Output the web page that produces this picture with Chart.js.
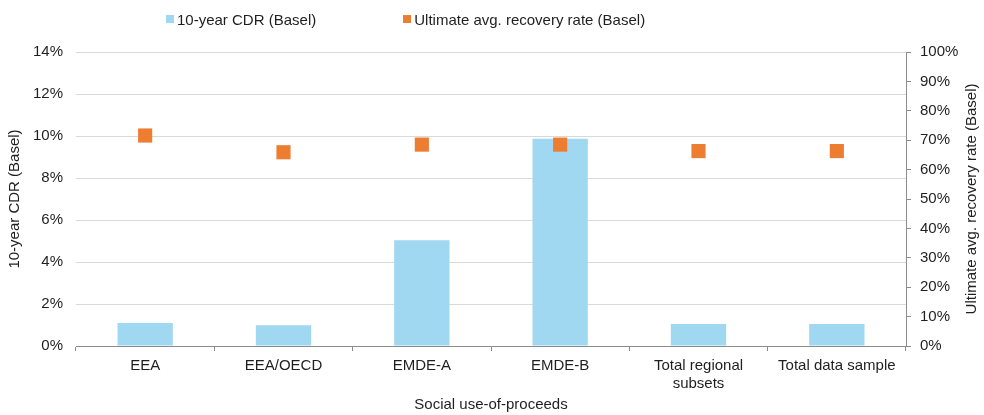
<!DOCTYPE html>
<html>
<head>
<meta charset="utf-8">
<script src="https://cdn.jsdelivr.net/npm/chart.js@4/dist/chart.umd.min.js"></script>
<style>
  html, body { margin: 0; padding: 0; background: #fff; }
  #wrap { position: relative; width: 984px; height: 415px; }
  #legend {
    position: absolute; left: 166px; top: 9px;
    display: flex; gap: 87px;
    font: 15px "Liberation Sans", Arial, sans-serif; color: #1f1f1f;
  }
  .item { display: flex; align-items: center; height: 20px; white-space: nowrap; }
  .box { width: 8px; height: 8px; margin-right: 3px; }
</style>
</head>
<body>
<div id="wrap">
  <canvas id="c" width="984" height="415"></canvas>
  <div id="legend"></div>
</div>
<script>
// Social use-of-proceeds: default and recovery statistics by regional subset
const categories = ['EEA', 'EEA/OECD', 'EMDE-A', 'EMDE-B', ['Total regional', 'subsets'], 'Total data sample'];
const cdr10y = [1.10, 0.99, 5.03, 9.87, 1.05, 1.05];          // % (left axis)
const recoveryRate = [71.6, 65.9, 68.5, 68.5, 66.3, 66.3];     // % (right axis)
const seriesNames = ['10-year CDR (Basel)', 'Ultimate avg. recovery rate (Basel)'];
const leftTicks = [0, 2, 4, 6, 8, 10, 12, 14];
const rightTicks = [0, 10, 20, 30, 40, 50, 60, 70, 80, 90, 100];
const xTitle = 'Social use-of-proceeds';

const BAR = '#a1d8f1';
const MARK = '#ed7d31';
const TEXT = '#1f1f1f';
const AXIS = '#8c8c8c';
const GRID = '#d9d9d9';
const FONT = '"Liberation Sans", Arial, sans-serif';

Chart.defaults.font.family = FONT;
Chart.defaults.font.size = 15;
Chart.defaults.color = TEXT;

// Right-axis title, written bottom-to-top like the left one
const rightTitle = {
  id: 'rightTitle',
  afterDraw(chart) {
    const s = chart.scales.y1;
    const ctx = chart.ctx;
    ctx.save();
    ctx.translate(s.right - 12, (chart.chartArea.top + chart.chartArea.bottom) / 2);
    ctx.rotate(-Math.PI / 2);
    ctx.font = '15px ' + FONT;
    ctx.fillStyle = TEXT;
    ctx.textAlign = 'center';
    ctx.textBaseline = 'middle';
    ctx.fillText(seriesNames[1], 0, 0);
    ctx.restore();
  }
};

const chart = new Chart(document.getElementById('c'), {
  data: {
    labels: categories,
    datasets: [
      {
        type: 'line',
        label: seriesNames[1],
        data: recoveryRate,
        yAxisID: 'y1',
        showLine: false,
        pointStyle: 'rect',
        pointRadius: 10,
        pointHoverRadius: 10,
        pointBackgroundColor: MARK,
        pointBorderColor: MARK,
        pointBorderWidth: 0,
        backgroundColor: MARK,
        order: 0
      },
      {
        type: 'bar',
        label: seriesNames[0],
        data: cdr10y,
        yAxisID: 'y',
        backgroundColor: BAR,
        barPercentage: 0.4,
        categoryPercentage: 1.0,
        order: 1
      }
    ]
  },
  options: {
    responsive: false,
    devicePixelRatio: 1,
    animation: false,
    layout: { padding: { top: 52, left: 0, right: 0, bottom: 0 } },
    plugins: {
      legend: { display: false },
      tooltip: { enabled: false }
    },
    scales: {
      x: {
        type: 'category',
        offset: true,
        grid: { offset: true, drawOnChartArea: false, drawTicks: true, tickLength: 5, color: AXIS },
        border: { display: true, color: AXIS },
        ticks: { padding: 6, color: TEXT, maxRotation: 0, autoSkip: false },
        title: { display: true, text: xTitle, color: TEXT, padding: { top: 0, bottom: 1 } },
        afterFit(scale) { scale.height = 69; }
      },
      y: {
        position: 'left',
        min: leftTicks[0],
        max: leftTicks[leftTicks.length - 1],
        afterBuildTicks(scale) { scale.ticks = leftTicks.map(v => ({ value: v })); },
        grid: { color: GRID, drawTicks: false },
        border: { display: false },
        ticks: { padding: 13, color: TEXT, callback: v => v + '%' },
        title: { display: true, text: seriesNames[0], color: TEXT, padding: { top: 6, bottom: 0 } },
        afterFit(scale) { scale.width = 76; }
      },
      y1: {
        position: 'right',
        min: rightTicks[0],
        max: rightTicks[rightTicks.length - 1],
        afterBuildTicks(scale) { scale.ticks = rightTicks.map(v => ({ value: v })); },
        grid: { drawOnChartArea: false, drawTicks: true, tickLength: 5, color: AXIS },
        border: { display: true, color: AXIS },
        ticks: { padding: 9, color: TEXT, callback: v => v + '%' },
        title: { display: false },
        afterFit(scale) { scale.width = 78; }
      }
    }
  },
  plugins: [rightTitle]
});

// HTML legend built from the chart's datasets (bar first, then markers)
const legendEl = document.getElementById('legend');
[1, 0].forEach(i => {
  const ds = chart.data.datasets[i];
  const item = document.createElement('div');
  item.className = 'item';
  const box = document.createElement('span');
  box.className = 'box';
  box.style.background = ds.type === 'bar' ? ds.backgroundColor : ds.pointBackgroundColor;
  const txt = document.createElement('span');
  txt.textContent = ds.label;
  item.appendChild(box);
  item.appendChild(txt);
  legendEl.appendChild(item);
});
</script>
</body>
</html>
